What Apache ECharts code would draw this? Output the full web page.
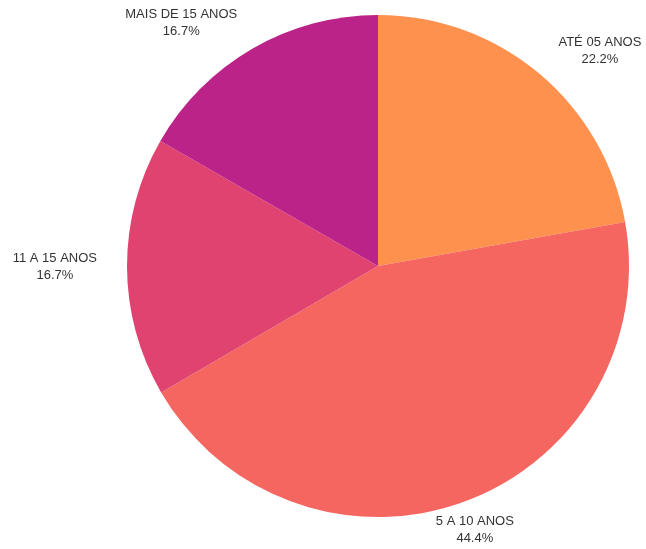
<!DOCTYPE html>
<html>
<head>
<meta charset="utf-8">
<style>
  html, body { margin: 0; padding: 0; background: #ffffff; }
  #chart { width: 646px; height: 549px; }
</style>
<script src="https://cdn.jsdelivr.net/npm/echarts@6/dist/echarts.min.js"></script>
</head>
<body>
<div id="chart"></div>
<script>
// Age brackets and their share of the total (%)
const categories = ['ATÉ 05 ANOS', '5 A 10 ANOS', '11 A 15 ANOS', 'MAIS DE 15 ANOS'];
const shares = [22.2, 44.4, 16.7, 16.7];
const colors = ['#FE914E', '#F66661', '#E0436F', '#BC2388'];

const chart = echarts.init(document.getElementById('chart'), null, { renderer: 'canvas' });

chart.setOption({
  backgroundColor: '#ffffff',
  animation: false,
  color: colors,
  series: [{
    type: 'pie',
    center: [378, 266],
    radius: 251,
    startAngle: 90,
    clockwise: true,
    avoidLabelOverlap: false,
    emphasis: { scale: false },
    itemStyle: { borderWidth: 0 },
    label: {
      show: true,
      position: 'outside',
      distanceToLabelLine: 0,
      fontFamily: '"Liberation Sans", Arial, sans-serif',
      fontSize: 13,
      lineHeight: 17,
      color: '#333333',
      formatter: function (p) {
        return p.name + '\n' + p.value.toFixed(1) + '%';
      }
    },
    labelLine: { show: false, length: 30, length2: 0 },
    // each label's lines are centred within their block; blocks near the
    // top or bottom of the pie are centred on their anchor point
    labelLayout: function (p) {
      const pts = p.labelLinePoints;
      const w = p.labelRect.width;
      const side = p.align === 'right' ? -1 : 1;
      if (!pts) return { align: 'center', dx: side * w / 2 };
      const vx = pts[1][0] - pts[0][0];
      const vy = pts[1][1] - pts[0][1];
      const len = Math.sqrt(vx * vx + vy * vy) || 1;
      if (Math.abs(vx) / len < 0.5) {
        return { align: 'center' };
      }
      return { align: 'center', dx: side * w / 2 };
    },
    data: categories.map(function (name, i) {
      return { name: name, value: shares[i] };
    })
  }]
});
</script>
</body>
</html>
